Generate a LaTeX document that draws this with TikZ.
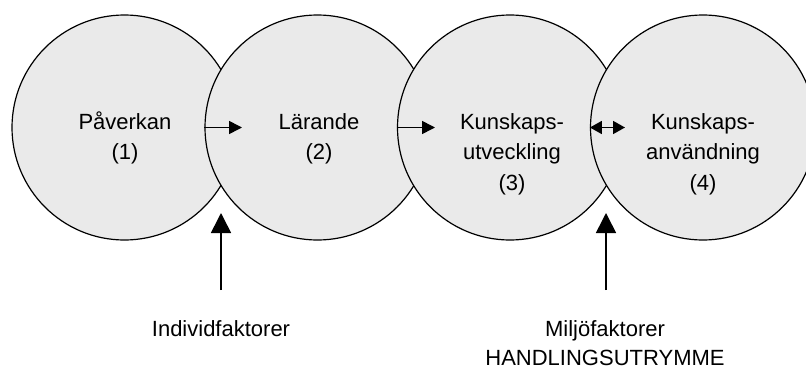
\documentclass[tikz,border=0pt]{standalone}
\usepackage{fontspec}
\setmainfont{Liberation Sans}
\usetikzlibrary{arrows.meta}
\definecolor{circfill}{RGB}{234,234,234}
\setlength\tabcolsep{0pt}
\tikzset{
  phase/.style={circle, draw=black, line width=1.2pt, fill=circfill, minimum size=225pt, inner sep=0pt},
  lbl/.style={anchor=base, inner sep=0pt, font=\fontsize{22}{30.5}\selectfont},
  blbl/.style={anchor=base, inner sep=0pt, font=\fontsize{22}{28.5}\selectfont},
  harrow/.style={line width=1.6pt, -{Triangle[length=13pt,width=13pt]}},
  darrow/.style={line width=1.6pt, {Triangle[length=12pt,width=13pt]}-{Triangle[length=12pt,width=13pt]}},
  varrow/.style={line width=1.6pt, -{Triangle[length=20pt,width=20pt]}}
}
\begin{document}
\begin{tikzpicture}[x=1pt,y=-1pt]
\useasboundingbox (0,0) rectangle (806,369);
\clip (0,0) rectangle (806,369);
% circles
\node[phase] (c1) at (124.5,127.5) {};
\node[phase] (c2) at (317.5,127.5) {};
\node[phase] (c3) at (510,127.5) {};
\node[phase] (c4) at (703,127.5) {};
% circle texts
\node[lbl] (t1) at (125,129) {\begin{tabular}[t]{c}Påverkan\\(1)\end{tabular}};
\node[lbl] (t2) at (319,129) {\begin{tabular}[t]{c}Lärande\\(2)\end{tabular}};
\node[lbl] (t3) at (512,129) {\begin{tabular}[t]{c}Kunskaps-\\utveckling\\(3)\end{tabular}};
\node[lbl] (t4) at (703,129) {\begin{tabular}[t]{c}Kunskaps-\\användning\\(4)\end{tabular}};
% horizontal arrows
\coordinate (h1) at (242,127.5);
\coordinate (h2) at (435,127.5);
\coordinate (h3) at (625,127.5);
\draw[harrow] (c2.west) -- (h1);
\draw[harrow] (c3.west) -- (h2);
\draw[darrow] (c4.west) -- (h3);
% bottom labels
\node[blbl] (f1) at (221,336.5) {Individfaktorer};
\node[blbl] (f2) at (605,336.5) {\begin{tabular}[t]{c}Miljöfaktorer\\HANDLINGSUTRYMME\end{tabular}};
% vertical arrows
\coordinate (v1s) at (221,290);
\coordinate (v1e) at (221,213);
\coordinate (v2s) at (606,290);
\coordinate (v2e) at (606,213);
\draw[varrow] (v1s) -- (v1e);
\draw[varrow] (v2s) -- (v2e);
\end{tikzpicture}
\end{document}
